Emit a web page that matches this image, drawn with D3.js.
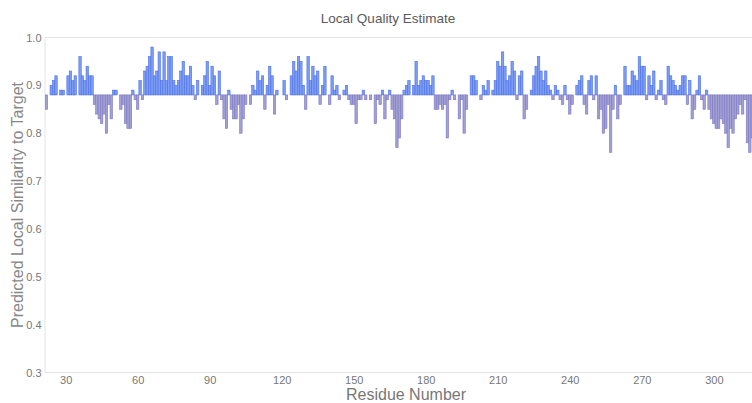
<!DOCTYPE html>
<html>
<head>
<meta charset="utf-8">
<script src="https://cdn.jsdelivr.net/npm/d3@7"></script>
<style>
  html, body { margin: 0; padding: 0; background: #fff; }
  svg { display: block; font-family: "Liberation Sans", Arial, sans-serif; }
</style>
</head>
<body>
<svg id="chart" width="752" height="403"></svg>
<script>
// ---- data ----
const firstResidue = 22;
const baselineScore = 0.88;
const scores = [
  0.85,0.88,0.90,0.91,0.92,0.88,0.89,0.89,0.88,0.92,
  0.93,0.91,0.92,0.88,0.96,0.92,0.91,0.94,0.92,0.92,
  0.86,0.84,0.83,0.82,0.84,0.80,0.86,0.83,0.89,0.89,
  0.88,0.85,0.86,0.82,0.81,0.81,0.89,0.87,0.85,0.91,
  0.87,0.93,0.94,0.96,0.98,
  0.92,0.93,0.97,0.91,0.97,0.91,0.96,0.96,0.91,0.90,0.91,0.93,
  0.95,0.92,0.92,0.94,0.90,0.87,0.91,0.88,0.90,0.92,
  0.95,0.90,0.94,0.92,0.86,0.93,0.87,0.83,0.81,0.89,
  0.85,0.83,0.83,0.86,0.80,0.83,0.86,0.88,0.86,0.90,
  0.89,0.93,0.91,0.92,0.85,0.90,0.94,0.92,0.84,0.89,
  0.88,0.88,0.91,0.87,0.88,0.92,0.95,0.93,0.96,0.95,
  0.90,0.85,0.96,0.91,0.94,0.92,0.93,0.86,0.90,
  0.94,0.88,0.86,0.92,0.89,0.90,0.87,0.88,0.89,0.90,
  0.87,0.86,0.86,0.82,0.87,0.87,0.89,0.87,0.88,0.87,
  0.88,0.82,0.87,0.86,0.89,0.83,0.87,0.89,0.85,0.83,
  0.77,0.79,0.83,0.89,0.90,0.91,0.88,0.90,0.95,0.90,
  0.91,0.92,0.91,0.91,0.90,0.92,0.85,0.85,0.86,0.85,
  0.86,0.79,0.87,0.89,0.87,0.88,0.83,0.87,0.80,
  0.85,0.88,0.92,0.92,0.91,0.88,0.87,0.90,0.89,0.91,
  0.88,0.89,0.91,0.95,0.94,0.97,0.94,0.91,0.92,0.95,
  0.93,0.87,0.92,0.93,0.83,0.85,0.88,0.89,0.92,0.94,
  0.96,0.93,0.91,0.93,0.90,0.89,0.87,0.90,0.89,0.87,
  0.86,0.90,0.87,0.84,0.86,0.88,0.90,0.91,0.92,0.86,
  0.84,0.91,0.92,0.87,0.92,0.83,0.85,0.80,
  0.81,
  0.86,0.76,0.85,0.90,0.83,0.86,0.88,0.94,0.90,0.90,
  0.93,0.92,0.91,0.96,0.94,0.94,0.87,0.92,0.90,0.93,
  0.87,0.89,0.91,0.87,0.86,0.94,0.92,0.91,0.90,0.89,
  0.90,0.92,0.92,0.86,0.91,0.83,0.85,0.89,0.92,0.87,
  0.85,0.89,0.85,0.83,0.82,0.81,0.81,0.83,0.82,0.80,
  0.77,0.81,0.80,0.83,0.84,0.86,0.84,0.87,0.78,0.76,0.79
];
const xTicks = [30, 60, 90, 120, 150, 180, 210, 240, 270, 300];
const yTicks = [0.3, 0.4, 0.5, 0.6, 0.7, 0.8, 0.9, 1.0];
const titleText = "Local Quality Estimate";
const xTitle = "Residue Number";
const yTitle = "Predicted Local Similarity to Target";

// ---- layout ----
const W = 752, H = 403;
const plotL = 45, plotR = 752, plotT = 37.5, plotB = 372.5;

const svg = d3.select("#chart");
const bars = scores.map((v, i) => ({ res: firstResidue + i, v }));

const x = d3.scaleLinear().domain([21.4, 315.9]).range([plotL, plotR]);
const y = d3.scaleLinear().domain([0.3, 1.0]).range([plotB, plotT]);
const bw = x(1) - x(0);

svg.append("defs").append("clipPath").attr("id", "plotclip")
  .append("rect").attr("x", plotL).attr("y", 0).attr("width", plotR - plotL).attr("height", H);

// frame lines
svg.append("line").attr("x1", plotL).attr("x2", W).attr("y1", y(1.0)).attr("y2", y(1.0))
  .attr("stroke", "#e4e4e4").attr("stroke-width", 1);
svg.append("line").attr("x1", plotL).attr("x2", W).attr("y1", y(0.3)).attr("y2", y(0.3))
  .attr("stroke", "#e4e4e4").attr("stroke-width", 1);
svg.append("line").attr("x1", plotL).attr("x2", plotL).attr("y1", y(1.0)).attr("y2", y(0.3))
  .attr("stroke", "#e4e4e4").attr("stroke-width", 1);

// bars
const g = svg.append("g").attr("clip-path", "url(#plotclip)");
g.selectAll("rect.bar").data(bars).enter().append("rect")
  .attr("class", "bar")
  .attr("x", d => x(d.res) - bw / 2)
  .attr("width", bw)
  .attr("y", d => Math.min(y(d.v), y(baselineScore)))
  .attr("height", d => Math.abs(y(d.v) - y(baselineScore)))
  .attr("fill", d => d.v >= baselineScore ? "#7d9df4" : "#a3a0d4")
  .attr("stroke", d => d.v >= baselineScore ? "#4d70e6" : "#7c77bf")
  .attr("stroke-width", 0.6);

// y axis
const yAxis = d3.axisLeft(y).tickValues(yTicks).tickFormat(d3.format(".1f")).tickSize(0).tickPadding(3);
const ya = svg.append("g").attr("transform", `translate(${plotL - 0.5},0)`).call(yAxis);
ya.select(".domain").remove();
ya.selectAll("text").attr("fill", "#777").attr("font-size", 11).attr("font-family", "Liberation Sans, Arial, sans-serif");

// x axis
const xAxis = d3.axisBottom(x).tickValues(xTicks).tickFormat(d3.format("d")).tickSize(0).tickPadding(4);
const xa = svg.append("g").attr("transform", `translate(0,${plotB})`).call(xAxis);
xa.select(".domain").remove();
xa.selectAll("text").attr("fill", "#777").attr("font-size", 11).attr("font-family", "Liberation Sans, Arial, sans-serif");

// titles
svg.append("text").attr("x", 388).attr("y", 23).attr("text-anchor", "middle")
  .attr("fill", "#5a5a5a").attr("font-size", 13.5).text(titleText);
svg.append("text").attr("x", 406).attr("y", 400).attr("text-anchor", "middle")
  .attr("fill", "#777").attr("font-size", 16).text(xTitle);
svg.append("text").attr("transform", `translate(23,205) rotate(-90)`).attr("text-anchor", "middle")
  .attr("fill", "#888").attr("font-size", 16).text(yTitle);
</script>
</body>
</html>
